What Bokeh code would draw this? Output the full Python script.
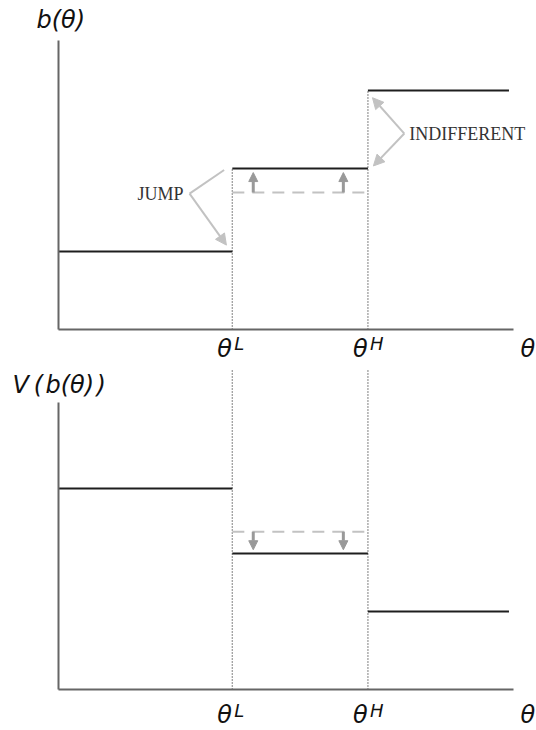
from bokeh.plotting import figure
from bokeh.models import (Range1d, FixedTicker, Label, Arrow, NormalHead,
                          ColumnDataSource)
from bokeh.layouts import column
from bokeh.embed import file_html
from bokeh.resources import INLINE

# ---------------- data ----------------
theta_edges = [0.0, 0.382, 0.680, 0.990]      # 0, theta^L, theta^H, end
tick_names = ["L", "H"]                        # superscripts of theta ticks
b_levels = [0.270, 0.557, 0.827]               # b(theta) on each interval
b_old_mid = 0.474                              # old (dashed) middle bid
V_levels = [0.700, 0.474, 0.272]               # V(b(theta)) on each interval
V_old_mid = 0.550                              # old (dashed) middle value
shift_x = [0.428, 0.626]                       # where the shift arrows sit
b_shift_tip = 0.543
V_shift_tip = 0.487
V_guide_top = 1.118                            # top of the lower dotted guides

# annotation brackets (data units)
jump_vertex = (0.288, 0.470)
jump_upper_end = (0.364, 0.552)
jump_lower_tip = (0.369, 0.292)
indiff_vertex = (0.760, 0.678)
indiff_upper_tip = (0.690, 0.802)
indiff_lower_tip = (0.692, 0.566)

# view windows (axis box is 0..1 in both directions)
X_RANGE = (-0.1275, 1.0505)
TOP_Y_RANGE = (-0.1142, 1.1384)
BOT_Y_RANGE = (-0.1429, 1.1394)

BLACK = "#1e1e1e"
AXIS = "#666666"
LIGHT = "#c2c2c2"
MID = "#999999"
DOT = "#4a4a4a"
SANS = "DejaVu Sans"
SERIF = "Liberation Serif"

thL, thH = theta_edges[1], theta_edges[2]


def base_fig(height, yr):
    p = figure(width=536, height=height, x_range=Range1d(*X_RANGE),
               y_range=Range1d(*yr), toolbar_location=None,
               output_backend="svg", min_border=0)
    p.grid.visible = False
    p.outline_line_color = None
    p.background_fill_color = "white"
    p.border_fill_color = "white"
    for ax in (p.xaxis[0], p.yaxis[0]):
        ax.ticker = FixedTicker(ticks=[])
        ax.fixed_location = 0
        ax.bounds = (0, 1)
        ax.major_tick_out = 0
        ax.major_tick_in = 0
        ax.minor_tick_out = 0
        ax.minor_tick_in = 0
        ax.axis_line_color = AXIS
        ax.axis_line_width = 2
        ax.major_label_text_font_size = "0px"
    return p


def steps(p, levels):
    src = ColumnDataSource(dict(x0=theta_edges[:-1], x1=theta_edges[1:],
                                y=levels))
    p.segment(x0="x0", y0="y", x1="x1", y1="y", source=src,
              line_color=BLACK, line_width=2)


def math_label(p, x, y, text, size, dx, dy):
    p.add_layout(Label(x=x, y=y, text=text, x_offset=dx, y_offset=dy,
                       text_font=SANS, text_font_style="italic",
                       text_font_size=size, text_baseline="alphabetic",
                       text_color="#111111"))


def theta_labels(p, main_off, sup_off):
    for x, s in zip([thL, thH], tick_names):
        math_label(p, x, 0, "θ", "24px", -15, main_off)
        math_label(p, x, 0, s, "18px", 2, sup_off)
    math_label(p, 1, 0, "θ", "24px", 7, main_off)


def shift_arrows(p, y0, y1):
    src = ColumnDataSource(dict(x=shift_x, y0=[y0] * 2, y1=[y1] * 2))
    p.add_layout(Arrow(source=src, x_start="x", y_start="y0", x_end="x",
                       y_end="y1", line_color=MID, line_width=3,
                       end=NormalHead(size=9, fill_color=MID, line_color=MID)))


# ---------------- top panel: b(theta) ----------------
top = base_fig(362, TOP_Y_RANGE)
top.segment(x0=[thL, thH], y0=[0, 0], x1=[thL, thH],
            y1=[b_levels[1], b_levels[2]], line_color=DOT, line_width=1.4,
            line_dash="1 2")
top.segment(x0=[thL], y0=[b_old_mid], x1=[thH], y1=[b_old_mid],
            line_color=LIGHT, line_width=2, line_dash="12 8")
steps(top, b_levels)
shift_arrows(top, b_old_mid, b_shift_tip)

# JUMP bracket
top.segment(x0=[jump_vertex[0]], y0=[jump_vertex[1]], x1=[jump_upper_end[0]],
            y1=[jump_upper_end[1]], line_color=LIGHT, line_width=2)
top.add_layout(Arrow(x_start=jump_vertex[0], y_start=jump_vertex[1],
                     x_end=jump_lower_tip[0], y_end=jump_lower_tip[1],
                     line_color=LIGHT, line_width=2,
                     end=NormalHead(size=11, fill_color=LIGHT, line_color=LIGHT)))
top.add_layout(Label(x=jump_vertex[0], y=jump_vertex[1], x_offset=-6,
                     text="JUMP", text_font=SERIF, text_font_size="18px",
                     text_align="right", text_baseline="middle",
                     text_color="#333333"))
# INDIFFERENT bracket
for tip in (indiff_upper_tip, indiff_lower_tip):
    top.add_layout(Arrow(x_start=indiff_vertex[0], y_start=indiff_vertex[1],
                         x_end=tip[0], y_end=tip[1], line_color=LIGHT,
                         line_width=2,
                         end=NormalHead(size=11, fill_color=LIGHT,
                                        line_color=LIGHT)))
top.add_layout(Label(x=indiff_vertex[0], y=indiff_vertex[1], x_offset=5,
                     text="INDIFFERENT", text_font=SERIF, text_font_size="18px",
                     text_align="left", text_baseline="middle",
                     text_color="#333333"))

math_label(top, 0, 1, "b(θ)", "24px", -22, 20)
theta_labels(top, -20, -14)

# ---------------- bottom panel: V(b(theta)) ----------------
bot = base_fig(368, BOT_Y_RANGE)
bot.segment(x0=[thL, thH], y0=[0, 0], x1=[thL, thH],
            y1=[V_guide_top, V_guide_top], line_color=DOT, line_width=1.4,
            line_dash="1 2")
bot.segment(x0=[thL], y0=[V_old_mid], x1=[thH], y1=[V_old_mid],
            line_color=LIGHT, line_width=2, line_dash="12 8")
steps(bot, V_levels)
shift_arrows(bot, V_old_mid, V_shift_tip)

math_label(bot, 0, 1, "V\u2009(\u200ab(θ)\u200a)", "24px", -46, 18)
theta_labels(bot, -26, -21)

layout = column(top, bot, spacing=0)
open("out.html", "w").write(file_html(layout, INLINE))
